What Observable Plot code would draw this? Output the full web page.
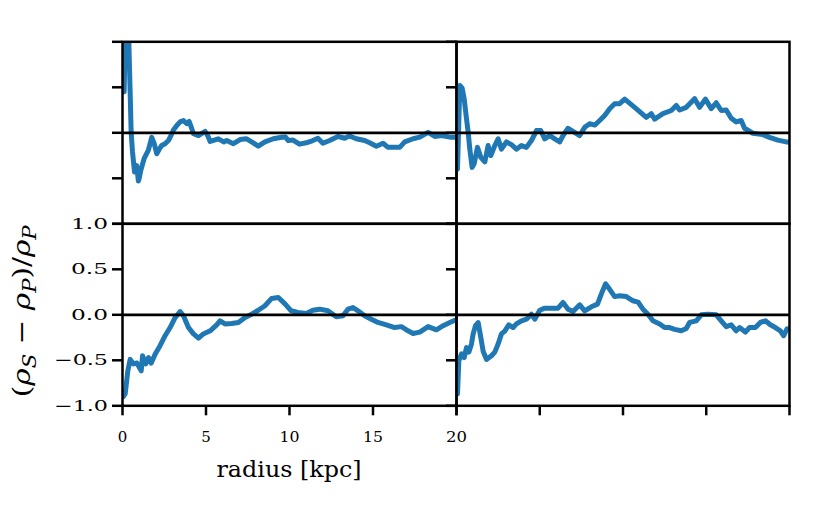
<!DOCTYPE html>
<html><head><meta charset="utf-8">
<script src="https://cdn.jsdelivr.net/npm/d3@7"></script>
<script src="https://cdn.jsdelivr.net/npm/@observablehq/plot@0.6"></script>
<style>
body{margin:0;background:#fff}
#chart{position:relative;width:831px;height:514px;overflow:hidden;background:#fff}
</style>
</head><body><div id="chart"></div>
<script>
// ---- data ----
const xTicks = [0, 5, 10, 15, 20];
const yTicks = [-1, -0.5, 0, 0.5, 1];
const xLabel = "radius [kpc]";

const tlRadius = [0.1,0.2,0.35,0.45,0.52,0.6,0.72,0.85,0.95,1.0,1.1,1.3,1.55,1.75,1.9,2.05,2.2,2.35,2.55,2.75,2.9,3.05,3.25,3.45,3.65,3.85,3.99,4.1,4.25,4.55,4.95,5.1,5.25,5.74,6.06,6.24,6.64,7.04,7.43,7.83,8.13,8.53,9.03,9.53,9.75,9.93,10.21,10.6,11.0,11.4,11.7,12.0,12.4,12.9,13.3,13.6,14.0,14.5,14.8,15.2,15.6,15.9,16.2,16.6,16.9,17.4,17.8,18.3,18.7,19.1,19.6,19.9];
const tlDelta  = [0.45,1.6,1.2,0.5,0.0,-0.21,-0.43,-0.36,-0.53,-0.5,-0.41,-0.28,-0.19,-0.05,-0.12,-0.23,-0.18,-0.14,-0.12,-0.085,-0.03,0.03,0.08,0.12,0.135,0.10,0.125,0.07,-0.01,-0.03,0.015,-0.03,-0.095,-0.066,-0.1,-0.085,-0.12,-0.074,-0.066,-0.11,-0.147,-0.10,-0.065,-0.048,-0.045,-0.085,-0.08,-0.125,-0.11,-0.085,-0.06,-0.115,-0.085,-0.04,-0.06,-0.035,-0.065,-0.085,-0.11,-0.147,-0.115,-0.16,-0.16,-0.16,-0.10,-0.065,-0.048,0.005,-0.04,-0.03,-0.048,-0.048];

const trRadius = [0.06,0.2,0.34,0.46,0.6,0.7,0.8,0.94,1.06,1.26,1.46,1.7,1.9,2.06,2.3,2.5,2.7,3.0,3.3,3.6,3.9,4.2,4.5,4.8,5.06,5.3,5.6,5.9,6.2,6.4,6.7,7.0,7.4,7.7,8.0,8.3,8.6,8.9,9.2,9.5,9.8,10.1,10.7,11.4,11.7,11.9,12.4,12.9,13.2,13.4,13.8,14.3,14.6,14.95,15.3,15.6,15.9,16.2,16.5,16.8,17.1,17.3,17.8,18.4,18.8,19.3,19.8,20.0];
const trDelta  = [-0.40,0.52,0.49,0.375,0.155,0.008,-0.18,-0.38,-0.34,-0.16,-0.27,-0.32,-0.14,-0.25,-0.14,-0.066,-0.18,-0.10,-0.13,-0.18,-0.14,-0.16,-0.085,0.025,0.025,-0.066,-0.03,-0.066,-0.10,-0.03,0.05,0.015,-0.03,0.06,0.10,0.085,0.135,0.19,0.265,0.32,0.32,0.37,0.28,0.17,0.21,0.15,0.21,0.245,0.30,0.25,0.28,0.375,0.28,0.37,0.265,0.33,0.245,0.25,0.16,0.12,0.135,0.05,-0.005,-0.02,-0.05,-0.08,-0.1,-0.1];

const blRadius = [0.05,0.16,0.32,0.46,0.66,0.86,1.12,1.2,1.39,1.56,1.72,1.96,2.25,2.55,2.85,3.15,3.45,3.65,3.95,4.25,4.55,4.84,5.25,5.64,5.84,6.14,6.54,6.94,7.34,7.73,8.13,8.53,8.93,9.33,9.73,10.1,10.5,11.0,11.4,11.8,12.3,12.8,13.2,13.5,13.8,14.1,14.5,14.9,15.3,15.8,16.3,16.7,17.1,17.4,17.8,18.3,18.8,19.2,19.6,19.9];
const blDelta  = [-0.9,-0.87,-0.615,-0.49,-0.54,-0.53,-0.615,-0.45,-0.54,-0.47,-0.53,-0.43,-0.34,-0.23,-0.14,-0.03,0.036,-0.01,-0.14,-0.21,-0.256,-0.21,-0.176,-0.11,-0.066,-0.10,-0.095,-0.085,-0.03,0.007,0.05,0.10,0.18,0.19,0.12,0.044,0.026,0.015,0.05,0.062,0.044,-0.022,-0.01,0.062,0.08,0.044,-0.01,-0.048,-0.084,-0.11,-0.14,-0.13,-0.176,-0.205,-0.19,-0.13,-0.165,-0.12,-0.084,-0.06];

const brRadius = [0.06,0.14,0.3,0.46,0.6,0.74,0.9,1.0,1.14,1.3,1.46,1.6,1.8,2.1,2.3,2.5,2.7,2.9,3.14,3.4,3.6,3.9,4.2,4.5,4.7,5.0,5.3,5.7,6.1,6.4,6.7,7.0,7.4,7.7,8.1,8.47,8.7,8.95,9.2,9.5,9.8,10.2,10.6,10.9,11.2,11.5,11.8,12.2,12.5,12.8,13.1,13.5,13.8,14.0,14.4,14.7,15.1,15.6,15.9,16.2,16.5,16.8,17.0,17.35,17.6,17.95,18.25,18.55,18.85,19.15,19.45,19.65,19.85];
const brDelta  = [-0.87,-0.505,-0.43,-0.47,-0.36,-0.41,-0.32,-0.21,-0.12,-0.085,-0.25,-0.40,-0.49,-0.45,-0.41,-0.32,-0.21,-0.18,-0.11,-0.14,-0.10,-0.066,-0.048,0.007,-0.048,0.05,0.073,0.073,0.073,0.135,0.062,0.036,0.11,0.044,0.088,0.117,0.23,0.34,0.28,0.2,0.21,0.20,0.154,0.14,0.062,0.007,-0.066,-0.10,-0.14,-0.14,-0.16,-0.176,-0.15,-0.084,-0.066,0.0,0.005,0.0,-0.066,-0.13,-0.11,-0.176,-0.14,-0.19,-0.14,-0.14,-0.084,-0.066,-0.11,-0.14,-0.176,-0.23,-0.154];

// ---- layout ----
const W = 831, H = 514, PH = 182;
const FONT = "DejaVu Serif";
const TICK_FS = 15;
const table = (r, d) => r.map((v, i) => ({r: v, d: d[i]}));
const fmtY = v => v.toFixed(1).replace("-", "\u2212");

const panels = [
  {data: table(tlRadius, tlDelta), left: 122, width: 334, top: 41.3, xAxis: false, xLabels: false, yLabels: false},
  {data: table(trRadius, trDelta), left: 456, width: 333, top: 41.3, xAxis: false, xLabels: false, yLabels: false},
  {data: table(blRadius, blDelta), left: 122, width: 334, top: 223.3, xAxis: true, xLabels: true, yLabels: true},
  {data: table(brRadius, brDelta), left: 456, width: 333, top: 223.3, xAxis: true, xLabels: false, yLabels: false}
];

const chart = document.getElementById("chart");

for (const p of panels) {
  const marks = [
    Plot.line(p.data, {x: "r", y: "d", stroke: "#1f77b4", strokeWidth: 5, strokeLinejoin: "round", strokeLinecap: "round", clip: true}),
    Plot.ruleY([0], {stroke: "black", strokeWidth: 2.8}),
    Plot.axisY(yTicks, {anchor: "left", tickSize: 10, tickPadding: 4.5, strokeWidth: 2.5, label: null,
      fontSize: TICK_FS, tickFormat: p.yLabels ? fmtY : () => ""}),
  ];
  if (p.xAxis) marks.push(Plot.axisX(xTicks, {anchor: "bottom", tickSize: 10, tickPadding: 16, strokeWidth: 2.5, label: null,
      fontSize: TICK_FS, tickFormat: p.xLabels ? (v => String(v)) : () => ""}));
  marks.push(Plot.frame({stroke: "black", strokeWidth: 2.5}));

  const svg = Plot.plot({
    width: W, height: H,
    marginLeft: p.left, marginRight: W - p.left - p.width,
    marginTop: p.top, marginBottom: H - p.top - PH,
    style: {position: "absolute", left: "0px", top: "0px", background: "transparent", fontFamily: FONT, fontSize: TICK_FS + "px", color: "black", overflow: "visible"},
    x: {domain: [0, 20], label: null, axis: p.xAxis ? undefined : null},
    y: {domain: [-1, 1], label: null},
    marks
  });
  chart.appendChild(svg);

  // widen tick labels to match the reference's spacing
  const yW = {"1.0": 37, "0.5": 37, "0.0": 37, "\u22120.5": 54, "\u22121.0": 54};
  const xW = {"10": 20, "15": 20, "20": 21};
  d3.select(svg).selectAll('g[aria-label="y-axis tick label"] text').each(function() {
    const w = yW[this.textContent];
    if (w) { this.setAttribute("textLength", w); this.setAttribute("lengthAdjust", "spacingAndGlyphs"); }
  });
  d3.select(svg).selectAll('g[aria-label="x-axis tick label"] text').each(function() {
    const w = xW[this.textContent];
    if (w) { this.setAttribute("textLength", w); this.setAttribute("lengthAdjust", "spacingAndGlyphs"); }
  });

  if (p.xLabels) {
    const s = d3.select(svg);
    s.append("text")
      .attr("x", p.left + p.width / 2).attr("y", 477)
      .attr("text-anchor", "middle").attr("font-family", FONT).attr("font-size", 22)
      .attr("textLength", 145).attr("lengthAdjust", "spacingAndGlyphs")
      .attr("fill", "black")
      .text(xLabel);
    const t = s.append("text")
      .attr("transform", `translate(30, ${p.top + PH / 2 - 3}) rotate(-90)`)
      .attr("text-anchor", "middle").attr("font-family", FONT).attr("font-size", 25)
      .attr("textLength", 172).attr("lengthAdjust", "spacingAndGlyphs")
      .attr("fill", "black");
    const parts = [
      ["(", "normal", 0, 25], ["\u03c1", "italic", 0, 25], ["S", "italic", 6, 18],
      [" \u2212 ", "normal", -6, 25], ["\u03c1", "italic", 0, 25], ["P", "italic", 6, 18],
      [")/", "normal", -6, 25], ["\u03c1", "italic", 0, 25], ["P", "italic", 6, 18]
    ];
    for (const [txt, style, dy, size] of parts) {
      t.append("tspan").attr("font-style", style).attr("dy", dy).attr("font-size", size).text(txt);
    }
  }
}
</script>
</body></html>
